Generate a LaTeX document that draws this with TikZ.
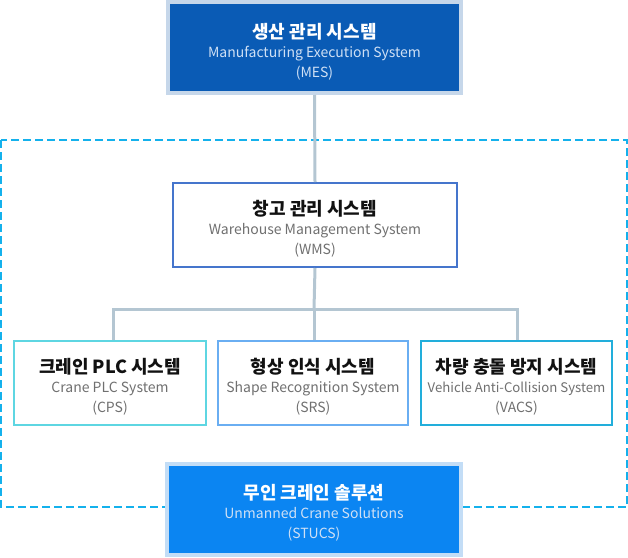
\documentclass[tikz,border=0pt]{standalone}
\usepackage{fontspec}
\setmainfont{Noto Sans CJK KR}
\definecolor{mesfill}{HTML}{0A5BB5}
\definecolor{mesedge}{HTML}{C6D7EA}
\definecolor{stufill}{HTML}{0B85F2}
\definecolor{stuedge}{HTML}{C3DDF6}
\definecolor{conn}{HTML}{B4C6D2}
\definecolor{dashc}{HTML}{14B1EC}
\definecolor{wmsedge}{HTML}{4575CC}
\definecolor{cpsedge}{HTML}{5ED6E2}
\definecolor{srsedge}{HTML}{6AAEF2}
\definecolor{vacsedge}{HTML}{22AEDB}
\definecolor{subgray}{HTML}{707070}
\definecolor{sublight}{HTML}{CFE0F5}
\definecolor{titledark}{HTML}{111111}
\tikzset{
  every node/.style={inner sep=0pt, outer sep=0pt},
  box/.style={rectangle},
  darkbox/.style={box, line width=4pt},
  lightbox/.style={box, line width=2pt, fill=white},
  txt/.style={align=center, font=\fontsize{14}{20}\selectfont},
  darktxt/.style={txt, text=white},
  lighttxt/.style={txt, text=titledark},
  conline/.style={draw=conn, line width=3pt},
}
\newcommand{\boxtext}[4]{{\fontsize{18}{20}\selectfont\bfseries #1}\\[-1pt]{\color{#4}#2}\\{\color{#4}#3}}
\begin{document}
\begin{tikzpicture}[x=1pt,y=-1pt]
\useasboundingbox (0,0) rectangle (628,557);
% dashed frame
\draw[dashc, line width=2pt, dash pattern=on 8pt off 4pt] (1,140) rectangle (627,507);
% boxes
\node[darkbox, draw=mesedge, fill=mesfill, minimum width=293pt, minimum height=91pt] (mes) at (314.5,47.5) {};
\node[lightbox, draw=wmsedge, minimum width=284pt, minimum height=84pt] (wms) at (315,225) {};
\node[lightbox, draw=cpsedge, minimum width=192pt, minimum height=84pt] (cps) at (110,383) {};
\node[lightbox, draw=srsedge, minimum width=190pt, minimum height=84pt] (srs) at (313,383) {};
\node[lightbox, draw=vacsedge, minimum width=191pt, minimum height=84pt] (vacs) at (516.5,383) {};
\node[darkbox, draw=stuedge, fill=stufill, minimum width=294pt, minimum height=91pt] (stucs) at (314,509.5) {};
% texts
\node[darktxt] (mest) at ([yshift=-4pt]mes.center)
  {\boxtext{생산 관리 시스템}{Manufacturing Execution System}{(MES)}{sublight}};
\node[lighttxt] (wmst) at ([yshift=-3.5pt]wms.center)
  {\boxtext{창고 관리 시스템}{Warehouse Management System}{(WMS)}{subgray}};
\node[lighttxt] (cpst) at ([yshift=-3.5pt]cps.center)
  {\boxtext{크레인 PLC 시스템}{Crane PLC System}{(CPS)}{subgray}};
\node[lighttxt] (srst) at ([yshift=-3.5pt]srs.center)
  {\boxtext{형상 인식 시스템}{Shape Recognition System}{(SRS)}{subgray}};
\node[lighttxt] (vacst) at ([yshift=-3.5pt]vacs.center)
  {\boxtext{차량 충돌 방지 시스템}{{\fontsize{13.2}{20}\selectfont Vehicle Anti-Collision System}}{(VACS)}{subgray}};
\node[darktxt] (stucst) at ([yshift=-3pt]stucs.center)
  {\boxtext{무인 크레인 솔루션}{Unmanned Crane Solutions}{(STUCS)}{sublight}};
% connectors
\coordinate (j) at (314,309);
\draw[conline] ([yshift=-2pt]mes.south) -- ([yshift=1pt]wms.north);
\draw[conline] ([yshift=-1pt]wms.south) -- (j);
\draw[conline, line join=miter] ([xshift=3pt,yshift=1pt]cps.north) |- (j) -| ([xshift=0.5pt,yshift=1pt]vacs.north);
\draw[conline] (j) -- ([xshift=1pt,yshift=1pt]srs.north);
\end{tikzpicture}
\end{document}
